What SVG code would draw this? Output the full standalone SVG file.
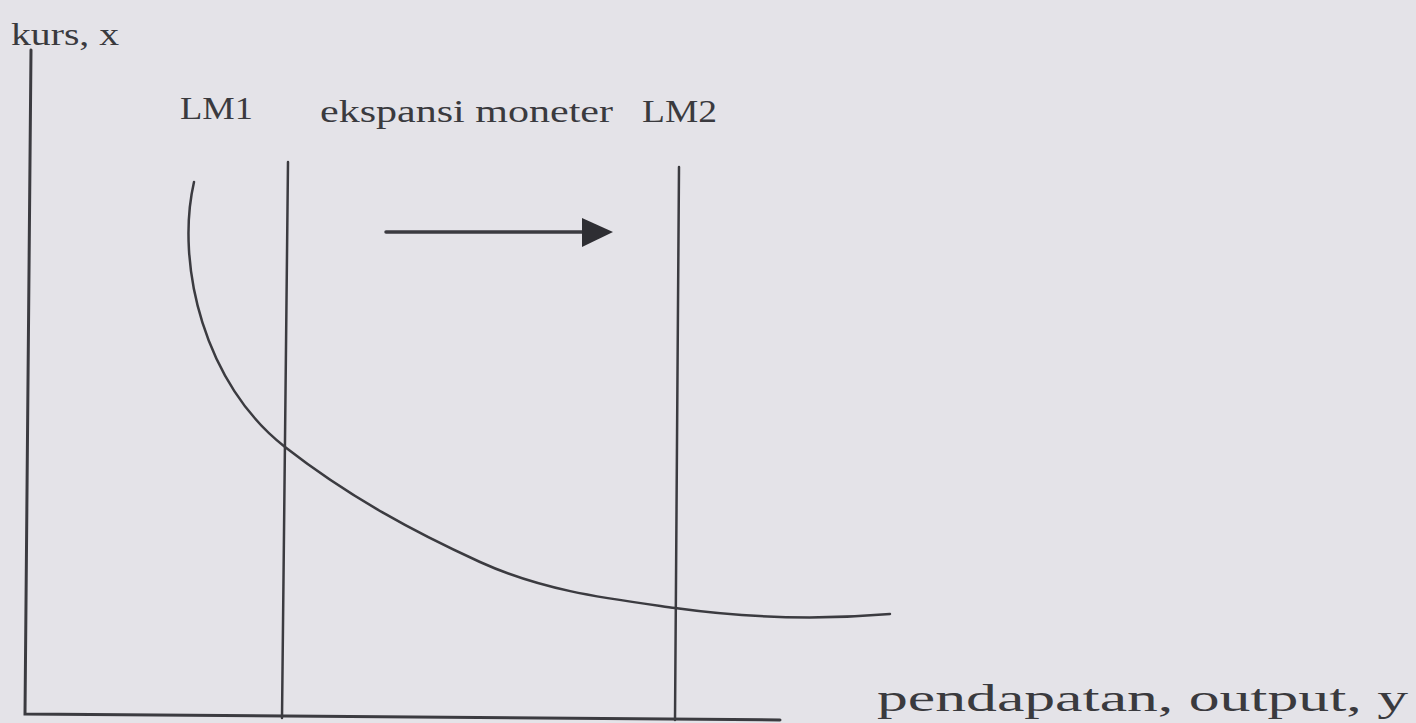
<svg xmlns="http://www.w3.org/2000/svg" width="1416" height="723" viewBox="0 0 1416 723">
<style>
.ln{stroke:#3b3b40;fill:none;stroke-linecap:round}
.t{font-family:"Liberation Serif","Times New Roman",serif;font-size:32px;fill:#3a3a3e}
</style>
<rect width="1416" height="723" fill="#e4e3e8"/>
<g id="axes">
<path class="ln" d="M31,50 L25,714 L780,720" stroke-width="3"/>
<text class="t" x="11" y="45" textLength="108" lengthAdjust="spacingAndGlyphs">kurs, x</text>
<text class="t" x="877" y="711" textLength="531" lengthAdjust="spacingAndGlyphs" style="font-size:37px">pendapatan, output, y</text>
</g>
<g id="LM1">
<line class="ln" x1="288" y1="162" x2="282" y2="718" stroke-width="2.5"/>
<text class="t" x="180" y="119" textLength="73" lengthAdjust="spacingAndGlyphs">LM1</text>
</g>
<g id="LM2">
<line class="ln" x1="679" y1="167" x2="675" y2="720" stroke-width="2.5"/>
<text class="t" x="642" y="122" textLength="75" lengthAdjust="spacingAndGlyphs">LM2</text>
</g>
<g id="curve">
<path class="ln" stroke-width="2.5" d="M194,182 C175,265 205,385 285,447 C350,497.7 415,532.4 480,562 C545,591.6 610,598.9 675,608 C747,618 820,620 890,614"/>
</g>
<g id="connectors">
<line class="ln" x1="386" y1="232" x2="588" y2="232" stroke-width="3.5"/>
<polygon points="613,232 582,218 582,247" fill="#2e2e33"/>
<text class="t" x="320" y="122" textLength="293" lengthAdjust="spacingAndGlyphs">ekspansi moneter</text>
</g>
</svg>
